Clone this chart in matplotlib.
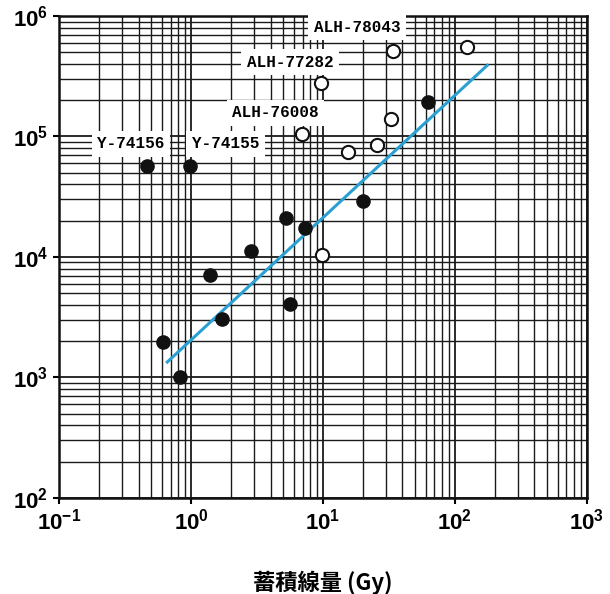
#!/usr/bin/env python3
import numpy as np
import matplotlib
matplotlib.use("Agg")
import matplotlib.pyplot as plt

# filled circles (Antarctic meteorites, Yamato etc.)
filled_x = [0.46, 0.98, 0.61, 0.82, 1.38, 1.73, 2.86, 5.25, 7.3, 5.6, 20, 63]
filled_y = [5.7e4, 5.7e4, 1980, 1000, 7030, 3040, 11200, 21000, 17300, 4070, 29200, 1.95e5]

# open circles (ALH samples)
open_x = [9.8, 6.95, 15.5, 25.6, 32.6, 9.7, 34, 124]
open_y = [10400, 1.04e5, 7.5e4, 8.5e4, 1.41e5, 2.8e5, 5.1e5, 5.5e5]

# fitted line end points
fit_x = [0.66, 176]
fit_y = [1340, 3.9e5]

# sample labels and their anchor positions (data coords, left edge)
label_names = ["ALH-78043", "ALH-77282", "ALH-76008", "Y-74156", "Y-74155"]
label_x = [8.5, 2.65, 2.05, 0.195, 1.01]
label_y = [8.1e5, 4.15e5, 1.57e5, 8.7e4, 8.7e4]

x_ticks = [1e-1, 1e0, 1e1, 1e2, 1e3]
x_ticklabels = ["$10^{-1}$", "$10^{0}$", "$10^{1}$", "$10^{2}$", "$10^{3}$"]
y_ticks = [1e2, 1e3, 1e4, 1e5, 1e6]
y_ticklabels = ["$10^{2}$", "$10^{3}$", "$10^{4}$", "$10^{5}$", "$10^{6}$"]

plt.rcParams['font.family'] = ['Liberation Sans', 'Noto Sans CJK JP', 'DejaVu Sans']
plt.rcParams['mathtext.default'] = 'regular'

fig = plt.figure(figsize=(6.10, 5.94), dpi=100)
ax = fig.add_axes([0.097, 0.162, 0.865, 0.811])
ax.set_xscale("log")
ax.set_yscale("log")
ax.set_xlim(1e-1, 1e3)
ax.set_ylim(1e2, 1e6)

# log graph paper grid
ax.grid(True, which="major", color="#1a1a1a", linewidth=1.3)
ax.grid(True, which="minor", color="#1a1a1a", linewidth=1.0)
ax.set_axisbelow(True)
for s in ax.spines.values():
    s.set_linewidth(1.8)
    s.set_color("#111111")

ax.set_xticks(x_ticks)
ax.set_xticklabels(x_ticklabels, fontsize=16, fontweight="bold")
ax.set_yticks(y_ticks)
ax.set_yticklabels(y_ticklabels, fontsize=16, fontweight="bold")
ax.tick_params(which="major", length=4, width=1.5, pad=4)
ax.tick_params(which="minor", length=0)

ax.plot(fit_x, fit_y, color="#2a9fd2", linewidth=2.2, zorder=3)
ax.plot(filled_x, filled_y, "o", color="#111111", markersize=9.5, zorder=4)
ax.plot(open_x, open_y, "o", markerfacecolor="white", markeredgecolor="#111111",
        markeredgewidth=1.5, markersize=9.5, zorder=4)

for name, lx, ly in zip(label_names, label_x, label_y):
    ax.text(lx, ly, name, family="Liberation Mono", fontsize=11.5, fontweight="bold",
            ha="left", va="center", zorder=5,
            bbox=dict(boxstyle="square,pad=0.35", facecolor="white", edgecolor="none"))

ax.set_xlabel("蓄積線量 (Gy)", family=["Noto Sans CJK JP", "Liberation Sans"],
              fontsize=16, fontweight="bold", labelpad=26)

fig.savefig("out.png", dpi=100)
